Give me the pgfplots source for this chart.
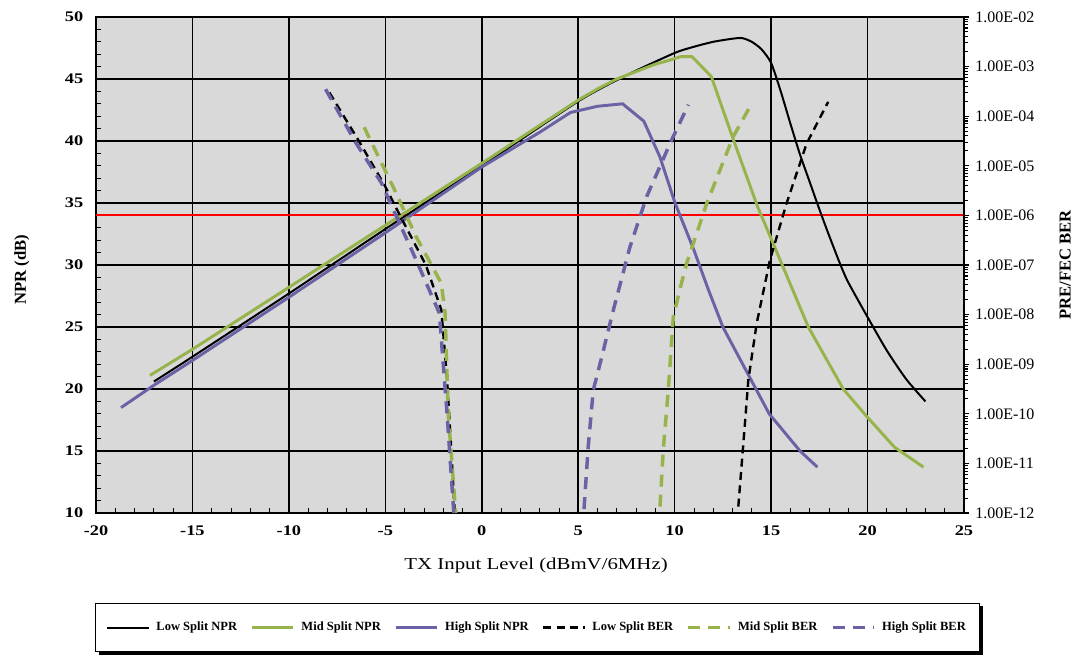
\documentclass[border=0pt]{standalone}
\usepackage{fontspec}
\setmainfont{Liberation Serif}
\newfontfamily\widefont[FakeStretch=1.25]{Liberation Serif}
\usepackage{pgfplots}
\pgfplotsset{compat=1.18}

\definecolor{midgreen}{RGB}{150,180,75}
\definecolor{highblue}{RGB}{105,98,165}

\begin{document}
\begin{tikzpicture}
\path[use as bounding box] (-72pt,-108.75pt) rectangle (735pt,384.75pt);

% NPR, left axis
\begin{axis}[
    scale only axis, width=651pt, height=372pt,
    xmin=-20, xmax=25, ymin=10, ymax=50,
    xtick={-20,-15,...,25}, ytick={10,15,...,50},
    minor x tick num=4, minor y tick num=4,
    xtick pos=lower, ytick pos=left,
    tick align=inside,
    major tick length=0pt, minor tick length=3.5pt,
    minor tick style={black, line width=0.6pt},
    grid=major,
    major grid style={black, line width=1.1pt},
    axis background/.style={fill=black!15},
    axis line style={line width=1.6pt},
    /pgf/number format/assume math mode=true,
    xticklabel style={font=\widefont\bfseries\fontsize{11}{13}\selectfont, yshift=-6pt},
    yticklabel style={font=\widefont\bfseries\fontsize{11}{13}\selectfont, xshift=-6pt},
    xlabel={TX Input Level (dBmV/6MHz)},
    xlabel style={font=\widefont\fontsize{12.5}{14}\selectfont, at={(rel axis cs:0.507,0)}, anchor=center, yshift=-39pt},
    ylabel={NPR (dB)},
    ylabel style={font=\bfseries\fontsize{12.5}{14}\selectfont, at={(axis description cs:-0.0853,0.49)}, anchor=center},
]
\addplot[red, line width=1.5pt] coordinates {(-20,34) (25,34)};

% Low Split NPR
\addplot[black, line width=1.5pt, smooth, tension=0.4] coordinates {
  (-17,20.6) (-15,22.6) (-10,27.7) (-5,32.9) (0,38.0) (5,43.2) (7.5,45.3)
  (10,47.1) (11,47.6) (12,48.0) (13,48.25) (13.5,48.3) (14,48.0) (14.5,47.4)
  (15,46.3) (15.5,44.0) (16,41.4) (16.5,38.9) (17,36.7) (17.5,34.5) (18,32.4)
  (18.6,30.0) (19,28.6) (20,25.8) (21,23.1) (22,20.8) (23,19.0)
};
% Mid Split NPR
\addplot[midgreen, line width=2.2pt] coordinates {
  (-17.2,21.1) (-15,23.2) (-10,28.2) (-5,33.2) (0,38.2) (5,43.3) (6,44.2)
  (7,45.0) (8,45.6) (9,46.2) (9.7,46.5) (10.3,46.8) (10.9,46.8) (11.9,45.2)
  (13.0,40.3) (14.3,34.7) (15.55,30.1) (16.93,25.0) (18.74,20.0) (19.95,17.8)
  (21.4,15.3) (22.9,13.7)
};
% High Split NPR
\addplot[highblue, line width=2.2pt] coordinates {
  (-18.7,18.5) (-17,20.3) (-15,22.3) (-10,27.4) (-5,32.6) (0,37.9) (3,40.7)
  (4.6,42.3) (6,42.8) (7.3,43.0) (8.4,41.6) (9.24,38.7) (10.02,35.0)
  (11.0,31.2) (11.75,28.0) (12.5,25.0) (13.7,21.5) (14.9,18.0) (16.5,15.0)
  (17.4,13.7)
};
\end{axis}

% BER, right axis
\begin{axis}[
    scale only axis, width=651pt, height=372pt,
    xmin=-20, xmax=25,
    ymode=log, ymin=1e-12, ymax=1e-2,
    axis x line=none, axis y line*=right,
    axis line style={line width=1.6pt},
    ytick={1e-12,1e-11,1e-10,1e-9,1e-8,1e-7,1e-6,1e-5,1e-4,1e-3,1e-2},
    yticklabels={1.00E-12,1.00E-11,1.00E-10,1.00E-09,1.00E-08,1.00E-07,
                 1.00E-06,1.00E-05,1.00E-04,1.00E-03,1.00E-02},
    minor ytick={},
    tick align=outside, major tick length=4pt,
    tick style={black, line width=0.8pt},
    yticklabel style={font=\fontsize{12}{14}\selectfont, xshift=1pt},
    ylabel={PRE/FEC BER},
    ylabel style={font=\bfseries\fontsize{12.5}{14}\selectfont, at={(axis description cs:1.1167,0.5)}, anchor=center},
    legend columns=6,
    legend cell align=left,
    legend image code/.code={\draw[#1] (0pt,0pt) -- (31pt,0pt);},
    legend style={name=legbox, at={(0.5086,-0.1815)}, anchor=north, draw=black, line width=0.8pt,
        fill=white, inner xsep=8pt, inner ysep=12pt,
        font=\bfseries\fontsize{9.4}{11}\selectfont,
        /tikz/every odd column/.append style={column sep=3pt},
        /tikz/every even column/.append style={column sep=8pt}},
]
\addlegendimage{black, line width=1.5pt}
\addlegendentry{Low Split NPR}
\addlegendimage{midgreen, line width=2.2pt}
\addlegendentry{Mid Split NPR}
\addlegendimage{highblue, line width=2.2pt}
\addlegendentry{High Split NPR}

% Low Split BER
\addplot[black, line width=1.8pt, dash pattern=on 6pt off 4pt] coordinates {
  (-7.9,3.0e-4) (-6.4,3.3e-5) (-5.0,3.8e-6) (-4.2,9.3e-7) (-2.9,1.0e-7)
  (-2.1,1.26e-8) (-1.8,5.0e-10) (-1.6,2.5e-11) (-1.4,1e-12)
};
\addlegendentry{Low Split BER}
% Mid Split BER
\addplot[midgreen, line width=2.6pt, dash pattern=on 9pt off 6pt] coordinates {
  (-6.1,6.0e-5) (-4.6,3.8e-6) (-3.4,3.7e-7) (-2.1,4.3e-8) (-1.9,1.07e-8)
  (-1.74,1.0e-10) (-1.35,1e-12)
};
\addlegendentry{Mid Split BER}
% High Split BER
\addplot[highblue, line width=2.6pt, dash pattern=on 9pt off 6pt] coordinates {
  (-8.1,3.5e-4) (-6.5,2.8e-5) (-5.2,4.5e-6) (-4.5,1.1e-6) (-3.4,1.26e-7)
  (-2.2,1.07e-8) (-1.8,1.0e-10) (-1.45,1e-12)
};
\addlegendentry{High Split BER}

\addplot[black, line width=1.8pt, dash pattern=on 6pt off 4pt, forget plot] coordinates {
  (13.3,1.35e-12) (13.56,2.5e-11) (13.82,4.8e-10) (14.25,6.6e-9) (14.94,1.26e-7)
  (15.8,1.74e-6) (16.84,2.8e-5) (17.96,1.95e-4)
};
\addplot[midgreen, line width=2.6pt, dash pattern=on 9pt off 6pt, forget plot] coordinates {
  (9.24,1.35e-12) (9.41,1.9e-11) (9.67,3.0e-10) (9.93,9.1e-9) (10.27,3.2e-8)
  (10.62,1.07e-7) (11.66,1.74e-6) (13.04,3.9e-5) (13.9,1.55e-4)
};
\addplot[highblue, line width=2.6pt, dash pattern=on 9pt off 6pt, forget plot] coordinates {
  (5.3,1.2e-12) (5.52,2.2e-11) (5.78,3.0e-10) (6.22,1.4e-9) (6.82,1.23e-8)
  (7.68,2.3e-7) (8.55,2.4e-6) (9.84,3.3e-5) (10.71,1.7e-4)
};
\end{axis}

% legend shadow
\fill[black] ([xshift=2.5pt]legbox.south west) rectangle ([xshift=2.5pt,yshift=-2.5pt]legbox.south east);
\fill[black] ([yshift=-2.5pt]legbox.north east) rectangle ([xshift=2.5pt,yshift=-2.5pt]legbox.south east);
\end{tikzpicture}
\end{document}
